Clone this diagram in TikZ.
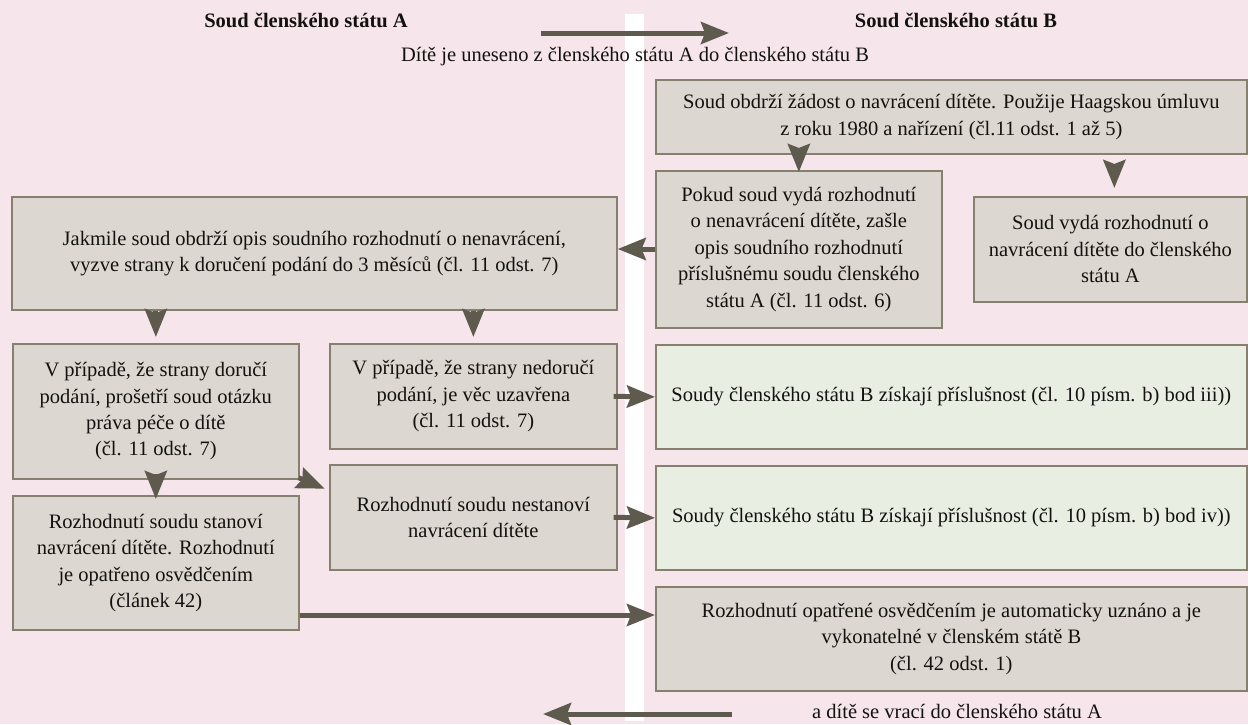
\documentclass[tikz,border=0pt]{standalone}
\usepackage{fontspec}
\setmainfont{Liberation Serif}
\usetikzlibrary{arrows.meta,calc}
\definecolor{bg}{HTML}{F6E6EC}
\definecolor{boxf}{HTML}{DCD8D1}
\definecolor{boxd}{HTML}{878070}
\definecolor{grn}{HTML}{E9EEE2}
\definecolor{arrc}{HTML}{5E5A4D}
\definecolor{txt}{HTML}{141210}
\begin{document}
\begin{tikzpicture}[x=1pt,y=-1pt,
 every node/.style={font=\fontsize{20.5}{26.4}\selectfont, text=txt},
 box/.style={draw=boxd, line width=1.7pt, fill=boxf, align=center, inner sep=0pt, anchor=north west},
 gbox/.style={box, fill=grn},
 arr/.style={draw=arrc, line width=5pt, -{Stealth[length=28pt,width=22pt,inset=4pt]}},
 heading/.style={font=\fontsize{20.5}{24}\selectfont\bfseries}
]
\fill[bg] (0,0) rectangle (1248,724);
\useasboundingbox (0,0) rectangle (1248,724);
\fill[white] (625,14) rectangle (644,721);

\node[heading] (hA) at (306,20) {Soud členského státu A};
\node[heading] (hB) at (956,20) {Soud členského státu B};
\node (sub) at (635,57) {Dítě je uneseno z členského státu A do členského státu B};
\node[inner sep=0pt] (ret) at (957,711) {a dítě se vrací do členského státu A};

\node[box, minimum width=591pt, minimum height=74pt] (b1) at (655,79) {Soud obdrží žádost o navrácení dítěte. Použije Haagskou úmluvu\\z roku 1980 a nařízení (čl.11 odst. 1 až 5)};
\node[box, minimum width=286pt, minimum height=157pt] (pokud) at (655,170) {Pokud soud vydá rozhodnutí\\o nenavrácení dítěte, zašle\\opis soudního rozhodnutí\\příslušnému soudu členského\\státu A (čl. 11 odst. 6)};
\node[box, minimum width=273pt, minimum height=105pt] (vyda) at (973,196) {Soud vydá rozhodnutí o\\navrácení dítěte do členského\\státu A};
\node[box, minimum width=605pt, minimum height=113pt] (jak) at (11,196) {Jakmile soud obdrží opis soudního rozhodnutí o nenavrácení,\\vyzve strany k doručení podání do 3 měsíců (čl. 11 odst. 7)};
\node[box, minimum width=286pt, minimum height=135pt] (dor) at (12,343) {V případě, že strany doručí\\podání, prošetří soud otázku\\práva péče o dítě\\(čl. 11 odst. 7)};
\node[box, minimum width=287pt, minimum height=105pt] (ned) at (329,343) {V případě, že strany nedoručí\\podání, je věc uzavřena\\(čl. 11 odst. 7)};
\node[gbox, minimum width=591pt, minimum height=104pt] (g1) at (655,344) {Soudy členského státu B získají příslušnost (čl. 10 písm. b) bod iii))};
\node[box, minimum width=287pt, minimum height=105pt] (nes) at (329,464) {Rozhodnutí soudu nestanoví\\navrácení dítěte};
\node[gbox, minimum width=591pt, minimum height=104pt] (g2) at (655,465) {Soudy členského státu B získají příslušnost (čl. 10 písm. b) bod iv))};
\node[box, minimum width=286pt, minimum height=134pt] (sta) at (12,495) {Rozhodnutí soudu stanoví\\navrácení dítěte. Rozhodnutí\\je opatřeno osvědčením\\(článek 42)};
\node[box, minimum width=591pt, minimum height=104pt] (opat) at (655,586) {Rozhodnutí opatřené osvědčením je automaticky uznáno a je\\vykonatelné v členském státě B\\(čl. 42 odst. 1)};

\coordinate (t1) at (541,33);
\coordinate (t2) at (729,33);
\coordinate (u1) at (732,714);
\coordinate (u2) at (543,714);
\coordinate (y249) at (0,249);
\coordinate (y615) at (0,615);
\draw[arr] (t1) -- (t2);
\draw[arr] (u1) -- (u2);

\draw[arr] ([yshift=7pt]pokud.north |- b1.south) -- ([yshift=-2pt]pokud.north);
\draw[arr] ([xshift=4pt,yshift=-9pt]vyda.north |- b1.south) -- ([xshift=4pt,yshift=8pt]vyda.north);
\draw[arr] (pokud.west |- y249) -- (jak.east |- y249);
\draw[arr] (dor.north |- jak.south) -- ([yshift=6pt]dor.north);
\draw[arr] (ned.north |- jak.south) -- ([yshift=6pt]ned.north);
\draw[arr] ([xshift=-4pt]ned.east) -- (g1.west);
\draw[arr] ([xshift=-4pt]nes.east) -- (g2.west);
\draw[arr] ([yshift=6pt]dor.south) -- ([yshift=-4pt]sta.north);
\draw[arr] ([xshift=-1pt,yshift=2pt]dor.south east) -- ++(26,11);
\draw[arr] (sta.east |- y615) -- (opat.west |- y615);
\end{tikzpicture}
\end{document}
